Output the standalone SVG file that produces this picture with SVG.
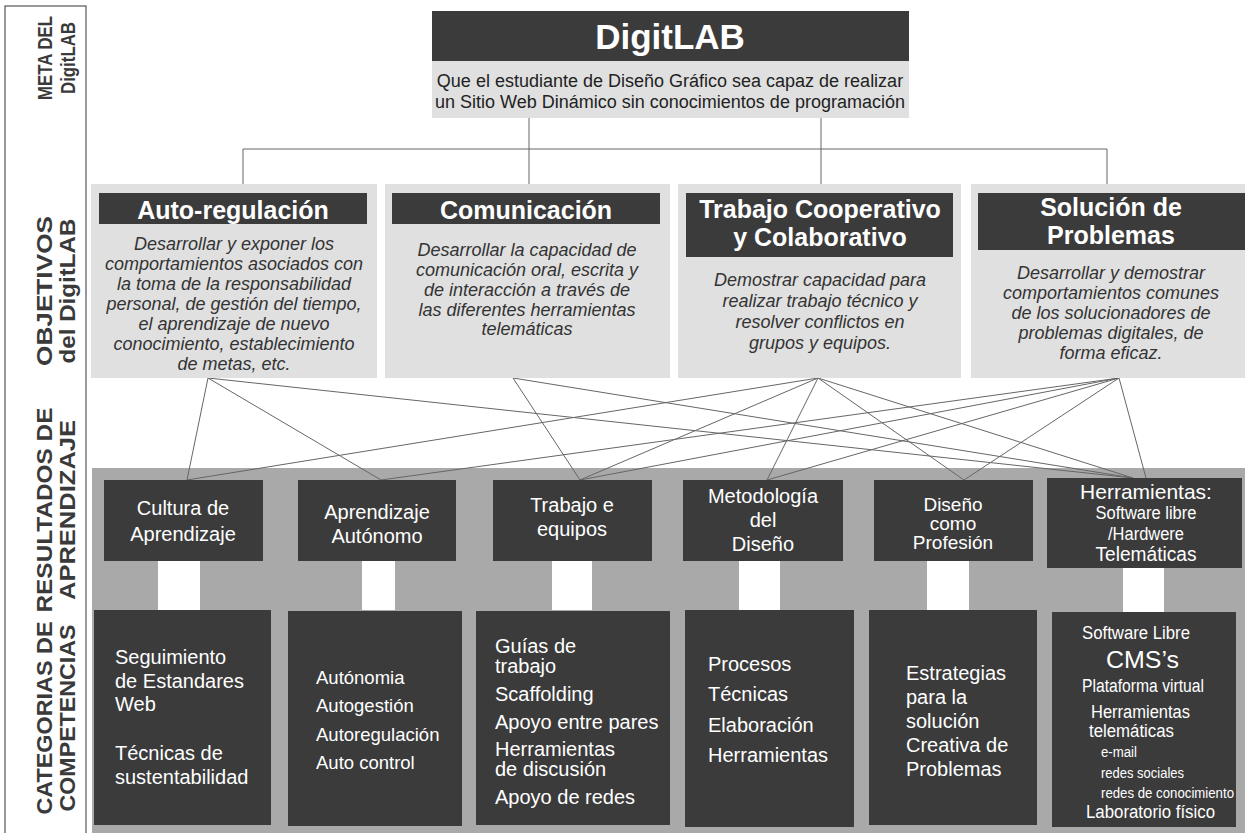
<svg xmlns="http://www.w3.org/2000/svg" width="1245" height="833" viewBox="0 0 1245 833">
<style>
text{font-family:"Liberation Sans",Arial,sans-serif}
.lbl{font-weight:bold;font-size:22px;fill:#3a3a3a;text-anchor:middle}
.dark{fill:#3b3b3b}
.light{fill:#e0e0e0}
.white{fill:#ffffff}
.title{font-weight:bold;font-size:35px;fill:#fff;text-anchor:middle}
.meta{font-size:18px;fill:#222;text-anchor:middle}
.hdr{font-weight:bold;font-size:25px;fill:#fff;text-anchor:middle}
.body{font-style:italic;font-size:18px;fill:#333;text-anchor:middle}
.res{font-size:20px;fill:#fff;text-anchor:middle}
.comp{font-size:20px;fill:#fff}
.nar{font-size:18px;fill:#fff}
.sm{font-size:14px;fill:#fff}
.conn line{stroke:#666;stroke-width:1}
</style>
<rect x="0" y="0" width="1245" height="833" fill="#fff"/>
<g id="labels">
<rect x="5" y="6" width="81" height="835" fill="none" stroke="#555" stroke-width="1.2"/>
<g transform="translate(52,58) rotate(-90)"><text class="lbl" x="0" y="0" style="font-size:19.5px" textLength="84" lengthAdjust="spacingAndGlyphs">META DEL</text></g>
<g transform="translate(75,58) rotate(-90)"><text class="lbl" x="0" y="0" style="font-size:20px" textLength="72" lengthAdjust="spacingAndGlyphs">DigitLAB</text></g>
<g transform="translate(52,291) rotate(-90)"><text class="lbl" x="0" y="0" textLength="150" lengthAdjust="spacingAndGlyphs">OBJETIVOS</text></g>
<g transform="translate(75,291) rotate(-90)"><text class="lbl" x="0" y="0" textLength="145" lengthAdjust="spacingAndGlyphs">del DigitLAB</text></g>
<g transform="translate(52,510) rotate(-90)"><text class="lbl" x="0" y="0" textLength="205" lengthAdjust="spacingAndGlyphs">RESULTADOS DE</text></g>
<g transform="translate(75,510) rotate(-90)"><text class="lbl" x="0" y="0" textLength="180" lengthAdjust="spacingAndGlyphs">APRENDIZAJE</text></g>
<g transform="translate(52,718) rotate(-90)"><text class="lbl" x="0" y="0" textLength="193" lengthAdjust="spacingAndGlyphs">CATEGORIAS DE</text></g>
<g transform="translate(75,718) rotate(-90)"><text class="lbl" x="0" y="0" textLength="187" lengthAdjust="spacingAndGlyphs">COMPETENCIAS</text></g>
</g>
<rect id="band" x="92" y="468" width="1153" height="365" fill="#a9a9a9"/>
<g class="conn" id="connectors">
<line x1="529" y1="118" x2="529" y2="184"/>
<line x1="821" y1="118" x2="821" y2="184"/>
<line x1="243" y1="149" x2="1107" y2="149"/>
<line x1="243" y1="149" x2="243" y2="184"/>
<line x1="1107" y1="149" x2="1107" y2="184"/>
<line x1="208" y1="378" x2="187" y2="480"/>
<line x1="208" y1="378" x2="381" y2="480"/>
<line x1="208" y1="378" x2="1133" y2="478"/>
<line x1="513" y1="378" x2="580" y2="480"/>
<line x1="513" y1="378" x2="1133" y2="478"/>
<line x1="818" y1="378" x2="187" y2="480"/>
<line x1="818" y1="378" x2="580" y2="480"/>
<line x1="818" y1="378" x2="767" y2="480"/>
<line x1="818" y1="378" x2="964" y2="480"/>
<line x1="818" y1="378" x2="1133" y2="478"/>
<line x1="1119" y1="378" x2="381" y2="480"/>
<line x1="1119" y1="378" x2="580" y2="480"/>
<line x1="1119" y1="378" x2="767" y2="480"/>
<line x1="1119" y1="378" x2="964" y2="480"/>
<line x1="1119" y1="378" x2="1146" y2="478"/>
</g>
<g id="meta">
<rect class="dark" x="432" y="11" width="477" height="50"/>
<rect class="light" x="432" y="61" width="477" height="57"/>
<text class="title" x="670" y="49">DigitLAB</text>
<text class="meta" x="670" y="87">Que el estudiante de Diseño Gráfico sea capaz de realizar</text>
<text class="meta" x="670" y="108">un Sitio Web Dinámico sin conocimientos de programación</text>
</g>
<g id="obj1">
<rect class="light" x="91" y="184" width="286" height="194"/>
<rect class="dark" x="99" y="193" width="268" height="31"/>
<text class="hdr" x="233" y="219">Auto-regulación</text>
<text class="body" x="234" y="250">Desarrollar y exponer los</text>
<text class="body" x="234" y="270">comportamientos asociados con</text>
<text class="body" x="234" y="290">la toma de la responsabilidad</text>
<text class="body" x="234" y="310">personal, de gestión del tiempo,</text>
<text class="body" x="234" y="330">el aprendizaje de nuevo</text>
<text class="body" x="234" y="350">conocimiento, establecimiento</text>
<text class="body" x="234" y="370">de metas, etc.</text>
</g>
<g id="obj2">
<rect class="light" x="385" y="184" width="285" height="194"/>
<rect class="dark" x="392" y="193" width="268" height="31"/>
<text class="hdr" x="526" y="219">Comunicación</text>
<text class="body" x="527" y="256">Desarrollar la capacidad de</text>
<text class="body" x="527" y="276">comunicación oral, escrita y</text>
<text class="body" x="527" y="296">de interacción a través de</text>
<text class="body" x="527" y="316">las diferentes herramientas</text>
<text class="body" x="527" y="335">telemáticas</text>
</g>
<g id="obj3">
<rect class="light" x="678" y="184" width="283" height="194"/>
<rect class="dark" x="686" y="193" width="267" height="64"/>
<text class="hdr" x="820" y="218">Trabajo Cooperativo</text>
<text class="hdr" x="820" y="246">y Colaborativo</text>
<text class="body" x="820" y="286">Demostrar capacidad para</text>
<text class="body" x="820" y="307">realizar trabajo técnico y</text>
<text class="body" x="820" y="328">resolver conflictos en</text>
<text class="body" x="820" y="349">grupos y equipos.</text>
</g>
<g id="obj4">
<rect class="light" x="971" y="184" width="274" height="194"/>
<rect class="dark" x="978" y="193" width="267" height="57"/>
<text class="hdr" x="1111" y="216">Solución de</text>
<text class="hdr" x="1111" y="244">Problemas</text>
<text class="body" x="1111" y="279">Desarrollar y demostrar</text>
<text class="body" x="1111" y="299">comportamientos comunes</text>
<text class="body" x="1111" y="319">de los  solucionadores de</text>
<text class="body" x="1111" y="339">problemas digitales, de</text>
<text class="body" x="1111" y="359">forma eficaz.</text>
</g>
<g id="res1">
<rect class="dark" x="104" y="480" width="159" height="81"/>
<rect class="white" x="158" y="561" width="42" height="49"/>
<text class="res" x="183" y="515">Cultura de</text>
<text class="res" x="183" y="541">Aprendizaje</text>
</g>
<g id="res2">
<rect class="dark" x="298" y="480" width="158" height="81"/>
<rect class="white" x="362" y="561" width="33" height="49"/>
<text class="res" x="377" y="519">Aprendizaje</text>
<text class="res" x="377" y="543">Autónomo</text>
</g>
<g id="res3">
<rect class="dark" x="493" y="480" width="159" height="81"/>
<rect class="white" x="552" y="561" width="40" height="49"/>
<text class="res" x="572" y="512">Trabajo e</text>
<text class="res" x="572" y="536">equipos</text>
</g>
<g id="res4">
<rect class="dark" x="683" y="480" width="160" height="81"/>
<rect class="white" x="739" y="561" width="41" height="49"/>
<text class="res" x="763" y="503">Metodología</text>
<text class="res" x="763" y="527">del</text>
<text class="res" x="763" y="551">Diseño</text>
</g>
<g id="res5">
<rect class="dark" x="874" y="480" width="159" height="81"/>
<rect class="white" x="927" y="561" width="42" height="49"/>
<text class="res" x="953" y="511" style="font-size:19px">Diseño</text>
<text class="res" x="953" y="530" style="font-size:19px">como</text>
<text class="res" x="953" y="549" style="font-size:19px">Profesión</text>
</g>
<g id="res6">
<rect class="dark" x="1047" y="478" width="195" height="90"/>
<rect class="white" x="1123" y="568" width="41" height="44"/>
<text class="res" x="1146" y="499" style="font-size:21px">Herramientas:</text>
<text class="res" x="1146" y="519" style="font-size:18px" textLength="101" lengthAdjust="spacingAndGlyphs">Software libre</text>
<text class="res" x="1146" y="540" style="font-size:18px" textLength="76" lengthAdjust="spacingAndGlyphs">/Hardwere</text>
<text class="res" x="1146" y="561" textLength="101" lengthAdjust="spacingAndGlyphs">Telemáticas</text>
</g>
<g id="comp1">
<rect class="dark" x="94" y="610" width="177" height="215"/>
<text class="comp" x="115" y="664">Seguimiento</text>
<text class="comp" x="115" y="688">de Estandares</text>
<text class="comp" x="115" y="711">Web</text>
<text class="comp" x="115" y="760">Técnicas de</text>
<text class="comp" x="115" y="784">sustentabilidad</text>
</g>
<g id="comp2">
<rect class="dark" x="288" y="611" width="174" height="215"/>
<text class="comp" x="316" y="684" style="font-size:18.5px">Autónomia</text>
<text class="comp" x="316" y="712" style="font-size:18.5px">Autogestión</text>
<text class="comp" x="316" y="741" style="font-size:18.5px">Autoregulación</text>
<text class="comp" x="316" y="769" style="font-size:18.5px">Auto control</text>
</g>
<g id="comp3">
<rect class="dark" x="476" y="611" width="194" height="214"/>
<text class="comp" x="495" y="653">Guías de</text>
<text class="comp" x="495" y="673">trabajo</text>
<text class="comp" x="495" y="701">Scaffolding</text>
<text class="comp" x="495" y="729">Apoyo entre pares</text>
<text class="comp" x="495" y="756">Herramientas</text>
<text class="comp" x="495" y="776">de discusión</text>
<text class="comp" x="495" y="804">Apoyo de redes</text>
</g>
<g id="comp4">
<rect class="dark" x="685" y="610" width="169" height="217"/>
<text class="comp" x="708" y="671">Procesos</text>
<text class="comp" x="708" y="701">Técnicas</text>
<text class="comp" x="708" y="732">Elaboración</text>
<text class="comp" x="708" y="762">Herramientas</text>
</g>
<g id="comp5">
<rect class="dark" x="869" y="610" width="168" height="215"/>
<text class="comp" x="906" y="680">Estrategias</text>
<text class="comp" x="906" y="704">para la</text>
<text class="comp" x="906" y="728">solución</text>
<text class="comp" x="906" y="752">Creativa de</text>
<text class="comp" x="906" y="776">Problemas</text>
</g>
<g id="comp6">
<rect class="dark" x="1052" y="612" width="184" height="215"/>
<text class="nar" x="1082" y="639" textLength="108" lengthAdjust="spacingAndGlyphs">Software Libre</text>
<text class="comp" x="1106" y="668" style="font-size:24px" textLength="73" lengthAdjust="spacingAndGlyphs">CMS’s</text>
<text class="nar" x="1082" y="692" textLength="122" lengthAdjust="spacingAndGlyphs">Plataforma virtual</text>
<text class="nar" x="1091" y="718" textLength="99" lengthAdjust="spacingAndGlyphs">Herramientas</text>
<text class="nar" x="1089" y="737" textLength="85" lengthAdjust="spacingAndGlyphs">telemáticas</text>
<text class="sm" x="1101" y="757" textLength="36" lengthAdjust="spacingAndGlyphs">e-mail</text>
<text class="sm" x="1101" y="778" textLength="83" lengthAdjust="spacingAndGlyphs">redes sociales</text>
<text class="sm" x="1101" y="798" textLength="133" lengthAdjust="spacingAndGlyphs">redes de conocimiento</text>
<text class="nar" x="1086" y="818" textLength="129" lengthAdjust="spacingAndGlyphs">Laboratorio físico</text>
</g>
</svg>
